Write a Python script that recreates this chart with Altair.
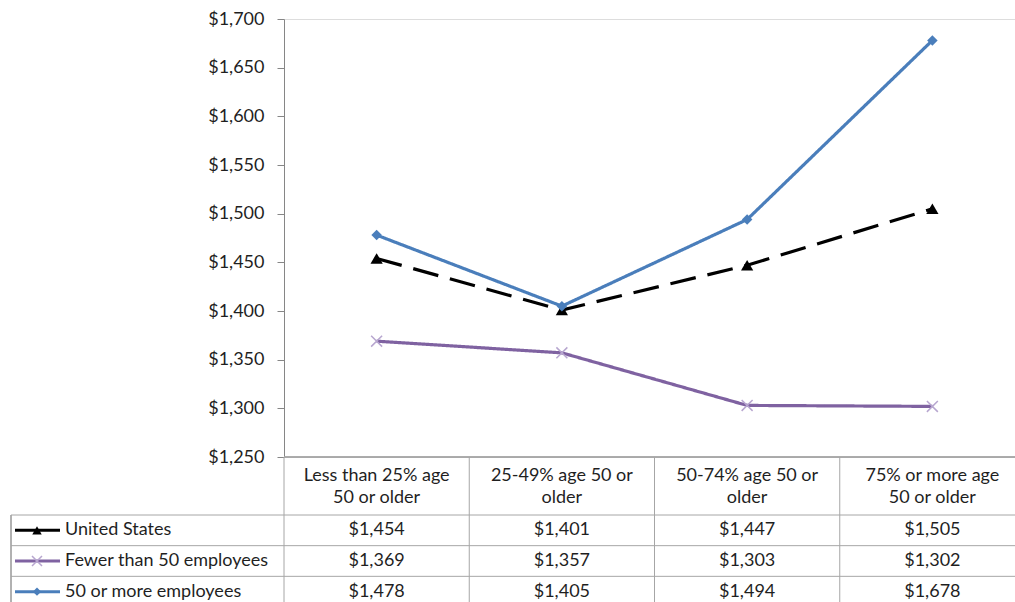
import altair as alt
import pandas as pd

# Age-mix categories (columns of the data table)
categories = [
    "Less than 25% age\n50 or older",
    "25-49% age 50 or\nolder",
    "50-74% age 50 or\nolder",
    "75% or more age\n50 or older",
]
series_names = ["United States", "Fewer than 50 employees", "50 or more employees"]
united_states = [1454, 1401, 1447, 1505]
fewer_than_50 = [1369, 1357, 1303, 1302]
fifty_or_more = [1478, 1405, 1494, 1678]

series_colors = ["#000000", "#7F62A1", "#4A7EBB"]

values_by_series = dict(zip(series_names, [united_states, fewer_than_50, fifty_or_more]))
rows = []
for s in series_names:
    for c, v in zip(categories, values_by_series[s]):
        rows.append({"series": s, "category": c, "value": v, "label": f"${v:,}"})
df = pd.DataFrame(rows)
cat_df = pd.DataFrame({"category": categories})
series_df = pd.DataFrame({"series": series_names})

FONT = "Lato"
FS = 18
TEXT = "#1f1f1f"
GRID = "#A6A6A6"
X_PATH = "M-1,-1L1,1M-1,1L1,-1"

W, H = 731, 438
xscale = alt.Scale(domain=categories, range=[0, 741], paddingInner=0, paddingOuter=0)
yscale = alt.Scale(domain=[1250, 1700], nice=False, zero=False)
rowscale = alt.Scale(domain=series_names, range=[496, 588], paddingInner=0, paddingOuter=0)
color = alt.Color("series:N", scale=alt.Scale(domain=series_names, range=series_colors), legend=None)
dash = alt.StrokeDash(
    "series:N",
    scale=alt.Scale(domain=series_names, range=[[26, 12], [1, 0], [1, 0]]),
    legend=None,
)

x_enc = alt.X("category:N", scale=xscale, axis=None, sort=categories)

lines = alt.Chart(df).mark_line(strokeWidth=3.2).encode(
    x=x_enc,
    y=alt.Y(
        "value:Q",
        scale=yscale,
        axis=alt.Axis(
            values=list(range(1250, 1701, 50)),
            format="$,d",
            title=None,
            grid=False,
            domainColor="#868686",
            tickColor="#868686",
            tickSize=7,
            labelPadding=13,
            labelFont=FONT,
            labelFontSize=FS,
            labelColor=TEXT,
        ),
    ),
    color=color,
    strokeDash=dash,
    detail="series:N",
)

y_noaxis = alt.Y("value:Q", scale=yscale, axis=None)

tri = alt.Chart(df[df.series == "United States"]).mark_point(
    shape="triangle-up", filled=True, size=150, color="#000000", opacity=1
).encode(x=x_enc, y=y_noaxis)

diamond = alt.Chart(df[df.series == "50 or more employees"]).mark_point(
    shape="diamond", filled=True, size=110, color="#4A7EBB", opacity=1
).encode(x=x_enc, y=y_noaxis)

xmark = alt.Chart(df[df.series == "Fewer than 50 employees"]).mark_point(
    shape=X_PATH, filled=False, size=120, color="#B7A6CF", strokeWidth=1.5, opacity=1
).encode(x=x_enc, y=y_noaxis)

# Data table under the plot
row_enc = alt.Y("series:N", scale=rowscale, axis=None, sort=series_names)

header = alt.Chart(cat_df).mark_text(
    font=FONT, fontSize=FS, color=TEXT, lineBreak="\n", lineHeight=22, baseline="middle"
).encode(x=x_enc, y=alt.value(457), text="category:N")

cells = alt.Chart(df).mark_text(
    font=FONT, fontSize=FS, color=TEXT, baseline="middle"
).encode(x=x_enc, y=row_enc, text="label:N")

row_labels = alt.Chart(series_df).mark_text(
    font=FONT, fontSize=FS, color=TEXT, align="left", baseline="middle"
).encode(x=alt.value(-219), y=row_enc, text="series:N")

key_lines = alt.Chart(series_df).mark_rule(strokeWidth=3).encode(
    x=alt.value(-269), x2=alt.value(-224),
    y=alt.Y("series:N", scale=rowscale, axis=None, sort=series_names, bandPosition=0.5),
    color=color,
)

key_marks = (
    alt.Chart(series_df[series_df.series == "United States"]).mark_point(
        shape="triangle-up", filled=True, size=90, color="#000000", opacity=1)
    .encode(x=alt.value(-247), y=row_enc)
    + alt.Chart(series_df[series_df.series == "Fewer than 50 employees"]).mark_point(
        shape=X_PATH, filled=False, size=100, color="#B7A6CF", strokeWidth=1.5, opacity=1)
    .encode(x=alt.value(-247), y=row_enc)
    + alt.Chart(series_df[series_df.series == "50 or more employees"]).mark_point(
        shape="diamond", filled=True, size=70, color="#4A7EBB", opacity=1)
    .encode(x=alt.value(-247), y=row_enc)
)

col_rules = alt.Chart(cat_df).mark_rule(color=GRID, strokeWidth=1).encode(
    x=alt.X("category:N", scale=xscale, axis=None, sort=categories, bandPosition=0),
    y=alt.value(H), y2=alt.value(600),
)
row_rules = alt.Chart(series_df).mark_rule(color=GRID, strokeWidth=1).encode(
    y=alt.Y("series:N", scale=rowscale, axis=None, sort=series_names, bandPosition=0),
    x=alt.value(-273), x2=alt.value(W),
)
base_rule = alt.Chart(cat_df).mark_rule(color=GRID, strokeWidth=1).encode(
    x=alt.value(0), x2=alt.value(W), y=alt.value(H)
)
left_border = alt.Chart(series_df).mark_rule(color=GRID, strokeWidth=1).encode(
    x=alt.value(-273), y=alt.value(496), y2=alt.value(600)
)

chart = (
    alt.layer(
        col_rules, row_rules, base_rule, left_border,
        lines, xmark, tri, diamond,
        header, cells, row_labels, key_lines, key_marks,
    )
    .resolve_scale(y="independent")
    .properties(
        width=W,
        height=H,
        padding={"left": 284, "top": 19, "right": 0, "bottom": 145},
        autosize=alt.AutoSizeParams(type="none"),
    )
    .configure_view(strokeWidth=0)
    .configure(background="#ffffff")
)

chart.save("out.html", embed_options={"renderer": "svg", "actions": False})
